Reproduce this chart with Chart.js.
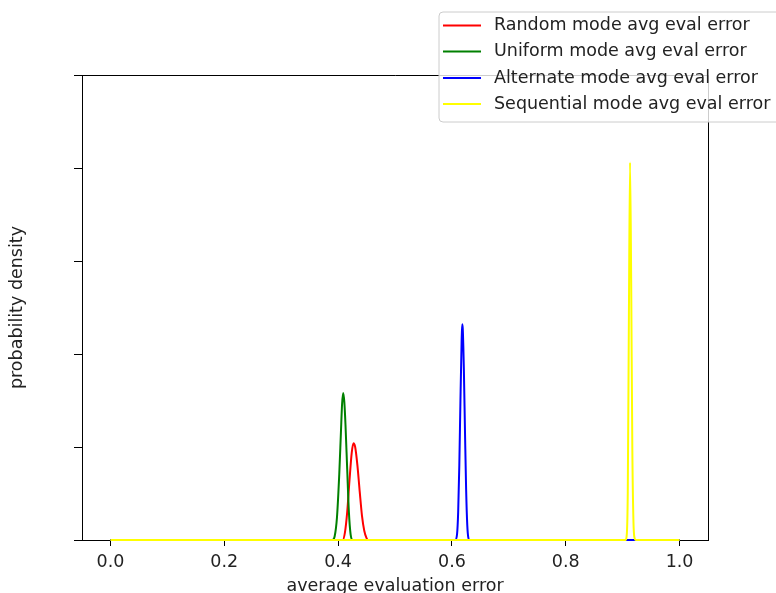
<!DOCTYPE html>
<html>
<head>
<meta charset="utf-8">
<script src="https://cdn.jsdelivr.net/npm/chart.js@4"></script>
<style>
  html, body { margin: 0; padding: 0; background: #fff; }
  #wrap { width: 776px; height: 593px; }
</style>
</head>
<body>
<div id="wrap"><canvas id="densityChart" width="776" height="593"></canvas></div>
<script>
const seriesNames = [
  "Random mode avg eval error",
  "Uniform mode avg eval error",
  "Alternate mode avg eval error",
  "Sequential mode avg eval error"
];
const seriesColors = ["#ff0000", "#008000", "#0000ff", "#ffff00"];

// density curves (flat zero outside each peak)
const randomX = [0, 0.408, 0.412, 0.416, 0.420, 0.424, 0.427, 0.430, 0.434, 0.438, 0.442, 0.446, 0.450, 0.453, 1];
const randomY = [0, 0, 4, 15, 32, 47, 52, 50, 40, 26, 13, 5, 1, 0, 0];
const uniformX = [0, 0.390, 0.394, 0.398, 0.402, 0.405, 0.407, 0.409, 0.411, 0.413, 0.416, 0.419, 0.422, 0.425, 1];
const uniformY = [0, 0, 2, 12, 35, 58, 73, 79, 74, 62, 38, 15, 3, 0, 0];
const alternateX = [0, 0.606, 0.609, 0.611, 0.613, 0.615, 0.617, 0.618, 0.619, 0.621, 0.623, 0.625, 0.627, 0.629, 0.631, 1];
const alternateY = [0, 0, 3, 15, 40, 75, 106, 116, 114, 92, 58, 27, 8, 1, 0, 0];
const sequentialX = [0, 0.905, 0.907, 0.909, 0.911, 0.913, 0.915, 0.917, 0.919, 0.921, 0.923, 1];
const sequentialY = [0, 0, 2, 25, 120, 203, 140, 50, 10, 1, 0, 0];

const xTicks = [0, 0.2, 0.4, 0.6, 0.8, 1.0];
const yTicks = [0, 50, 100, 150, 200, 250];

const allX = [randomX, uniformX, alternateX, sequentialX];
const allY = [randomY, uniformY, alternateY, sequentialY];

const FONT = "'DejaVu Sans', sans-serif";
const FSIZE = 17.5;

const frameAndLegend = {
  id: 'frameAndLegend',
  afterDraw(chart) {
    const ctx = chart.ctx;
    const a = chart.chartArea;
    ctx.save();
    // top and right spines
    ctx.strokeStyle = '#000';
    ctx.lineWidth = 1;
    ctx.beginPath();
    ctx.moveTo(a.left, a.top + 0.5);
    ctx.lineTo(a.right + 0.5, a.top + 0.5);
    ctx.lineTo(a.right + 0.5, a.bottom);
    ctx.stroke();

    // legend box
    const bx = 439, by = 12, bw = 345, bh = 110, r = 4;
    ctx.beginPath();
    ctx.moveTo(bx + r, by);
    ctx.lineTo(bx + bw - r, by);
    ctx.arcTo(bx + bw, by, bx + bw, by + r, r);
    ctx.lineTo(bx + bw, by + bh - r);
    ctx.arcTo(bx + bw, by + bh, bx + bw - r, by + bh, r);
    ctx.lineTo(bx + r, by + bh);
    ctx.arcTo(bx, by + bh, bx, by + bh - r, r);
    ctx.lineTo(bx, by + r);
    ctx.arcTo(bx, by, bx + r, by, r);
    ctx.closePath();
    ctx.fillStyle = 'rgba(255,255,255,0.8)';
    ctx.fill();
    ctx.strokeStyle = '#cccccc';
    ctx.stroke();

    const rows = [25.5, 51.5, 78, 104];
    ctx.font = FSIZE + 'px ' + FONT;
    ctx.textBaseline = 'middle';
    ctx.textAlign = 'left';
    seriesNames.forEach((name, i) => {
      ctx.strokeStyle = seriesColors[i];
      ctx.lineWidth = 2;
      ctx.beginPath();
      ctx.moveTo(443, rows[i]);
      ctx.lineTo(481, rows[i]);
      ctx.stroke();
      ctx.fillStyle = '#222';
      ctx.fillText(name, 494, rows[i]);
    });
    ctx.restore();
  }
};

const datasets = seriesNames.map((name, i) => ({
  label: name,
  data: allX[i].map((x, j) => ({ x: x, y: allY[i][j] })),
  borderColor: seriesColors[i],
  borderWidth: 2,
  pointRadius: 0,
  fill: false,
  cubicInterpolationMode: 'monotone',
  clip: false,
  order: seriesNames.length - i
}));

new Chart(document.getElementById('densityChart'), {
  type: 'line',
  data: { datasets: datasets },
  options: {
    responsive: false,
    animation: false,
    events: [],
    layout: { padding: { top: 75, right: 68, left: 0, bottom: 0 } },
    plugins: { legend: { display: false }, tooltip: { enabled: false } },
    scales: {
      x: {
        type: 'linear',
        min: -0.05,
        max: 1.05,
        afterBuildTicks: s => { s.ticks = xTicks.map(v => ({ value: v })); },
        afterFit: s => { s.height = 53; },
        grid: { drawOnChartArea: false, drawTicks: true, tickLength: 6, tickColor: '#000' },
        border: { color: '#000', width: 1 },
        ticks: {
          color: '#222',
          font: { family: FONT, size: FSIZE },
          padding: 5.5,
          maxRotation: 0,
          callback: v => v.toFixed(1)
        },
        title: {
          display: true,
          text: 'average evaluation error',
          color: '#222',
          font: { family: FONT, size: FSIZE, lineHeight: 0.72 },
          padding: { top: 0, bottom: 0 }
        }
      },
      y: {
        min: 0,
        max: 250,
        afterBuildTicks: s => { s.ticks = yTicks.map(v => ({ value: v })); },
        afterFit: s => { s.width = 82; },
        grid: { drawOnChartArea: false, drawTicks: true, tickLength: 8, tickColor: '#000' },
        border: { color: '#000', width: 1 },
        ticks: { callback: () => '' },
        title: {
          display: true,
          text: 'probability density',
          color: '#222',
          font: { family: FONT, size: FSIZE },
          padding: { top: 7, bottom: 0 }
        }
      }
    }
  },
  plugins: [frameAndLegend]
});
</script>
</body>
</html>
